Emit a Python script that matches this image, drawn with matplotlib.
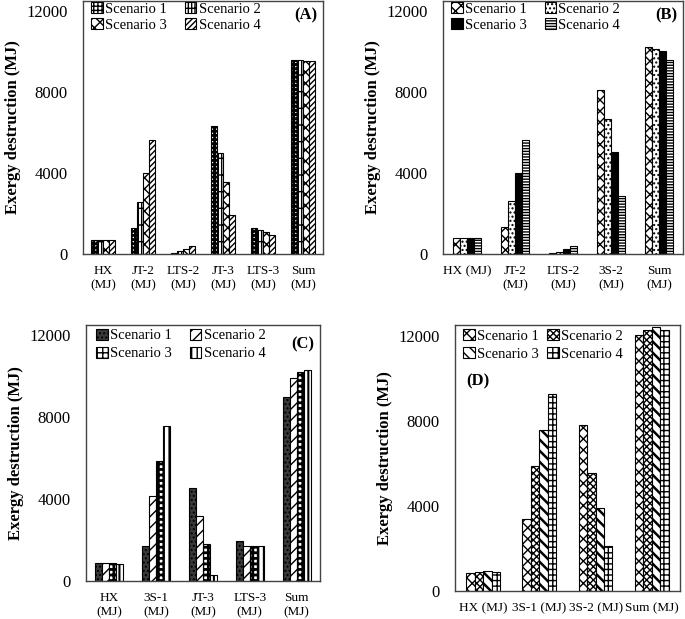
import matplotlib
matplotlib.use("Agg")
import matplotlib.pyplot as plt
import numpy as np

plt.rcParams['font.family'] = ['Liberation Serif', 'DejaVu Serif']

scenarios = ["Scenario 1", "Scenario 2", "Scenario 3", "Scenario 4"]

# Panel A
cats_a = ["HX\n(MJ)", "JT-2\n(MJ)", "LTS-2\n(MJ)", "JT-3\n(MJ)", "LTS-3\n(MJ)", "Sum\n(MJ)"]
a_s1 = [710, 1260, 60, 6300, 1260, 9580]
a_s2 = [700, 2580, 160, 4970, 1200, 9560]
a_s3 = [700, 4000, 260, 3540, 1070, 9545]
a_s4 = [710, 5610, 390, 1950, 935, 9545]

# Panel B
cats_b = ["HX (MJ)", "JT-2\n(MJ)", "LTS-2\n(MJ)", "3S-2\n(MJ)", "Sum\n(MJ)"]
b_s1 = [800, 1310, 30, 8100, 10250]
b_s2 = [800, 2610, 115, 6660, 10150]
b_s3 = [800, 4020, 245, 5035, 10040]
b_s4 = [780, 5640, 380, 2870, 9590]

# Panel C
cats_c = ["HX\n(MJ)", "3S-1\n(MJ)", "JT-3\n(MJ)", "LTS-3\n(MJ)", "Sum\n(MJ)"]
c_s1 = [860, 1710, 4520, 1960, 8990]
c_s2 = [900, 4160, 3190, 1710, 9900]
c_s3 = [880, 5870, 1820, 1710, 10180]
c_s4 = [830, 7560, 290, 1710, 10290]

# Panel D
cats_d = ["HX (MJ)", "3S-1 (MJ)", "3S-2 (MJ)", "Sum (MJ)"]
d_s1 = [860, 3390, 7780, 12050]
d_s2 = [910, 5880, 5540, 12270]
d_s3 = [940, 7580, 3890, 12410]
d_s4 = [895, 9260, 2120, 12270]

yticks = [0, 4000, 8000, 12000]

panels = [
    dict(rect=[0.1212, 0.5897, 0.3504, 0.4087], cats=cats_a, data=[a_s1, a_s2, a_s3, a_s4],
         styles=[("white", "++++", 2.0), ("white", "||||+", 1.0), ("white", "xxx", 1.0), ("white", "//////", 1.0)],
         label="(A)", lpos=(0.975, 0.975, "right"), leg=(0.035, 0.995), colsp=1.2, ls=0.15),
    dict(rect=[0.6467, 0.5897, 0.3504, 0.4087], cats=cats_b, data=[b_s1, b_s2, b_s3, b_s4],
         styles=[("white", "xxx", 1.0), ("white", "....", 1.0), ("black", "", 1.0), ("white", "------", 1.0)],
         label="(B)", lpos=(0.975, 0.975, "right"), leg=(0.035, 0.995), colsp=1.2, ls=0.15),
    dict(rect=[0.1255, 0.0614, 0.3416, 0.4136], cats=cats_c, data=[c_s1, c_s2, c_s3, c_s4],
         styles=[("#3a3a3a", "....", 1.0), ("white", "///", 1.0), ("white", "+++", 2.0), ("white", "|||", 1.5)],
         label="(C)", lpos=(0.975, 0.955, "right"), leg=(0.045, 0.985), colsp=1.2, ls=0.3),
    dict(rect=[0.6642, 0.0452, 0.3285, 0.4297], cats=cats_d, data=[d_s1, d_s2, d_s3, d_s4],
         styles=[("white", "xxx", 1.0), ("white", "xxxxx", 1.0), ("white", "\\\\\\", 1.8), ("white", "+++", 1.0)],
         label="(D)", lpos=(0.05, 0.82, "left"), leg=(0.035, 0.985), colsp=0.6, ls=0.3),
]

fig = plt.figure(figsize=(6.85, 6.19), dpi=100)
width = 0.15
for p in panels:
    ax = fig.add_axes(p["rect"])
    n = len(p["cats"])
    x = np.arange(n)
    handles = []
    for i, (vals, (fc, h, hlw)) in enumerate(zip(p["data"], p["styles"])):
        with plt.rc_context({"hatch.linewidth": hlw}):
            bars = ax.bar(x + (i - 1.5) * width, vals, width, facecolor=fc, edgecolor="black",
                          hatch=h, linewidth=0.8, label=scenarios[i], zorder=2)
            for b in bars:
                if hasattr(b, "set_hatch_linewidth"):
                    b.set_hatch_linewidth(hlw)
        handles.append(bars)
    ax.set_xlim(-0.5, n - 0.5)
    ax.set_ylim(0, 12500)
    ax.set_yticks(yticks)
    ax.set_yticklabels([str(v) for v in yticks], fontsize=12)
    ax.set_xticks(x)
    ax.set_xticklabels(p["cats"], fontsize=9.5)
    ax.tick_params(length=0)
    ax.tick_params(axis="y", pad=11)
    ax.tick_params(axis="x", pad=8)
    for s in ax.spines.values():
        s.set_color("#444444")
        s.set_linewidth(1.0)
    ax.set_ylabel("Exergy destruction (MJ)", fontsize=12, fontweight="bold", labelpad=4)
    lx, ly, ha = p["lpos"]
    ax.text(lx, ly, p["label"], transform=ax.transAxes, ha=ha, va="top", fontsize=12, fontweight="bold")
    order = [0, 2, 1, 3]
    ax.legend(handles=[handles[k] for k in order], labels=[scenarios[k] for k in order],
              loc="upper left", bbox_to_anchor=p["leg"], ncol=2, frameon=False,
              fontsize=10.5, handlelength=0.8, handleheight=0.8, handletextpad=0.15,
              columnspacing=p["colsp"], labelspacing=p["ls"], borderpad=0, borderaxespad=0)

fig.savefig("out.png", dpi=100)
